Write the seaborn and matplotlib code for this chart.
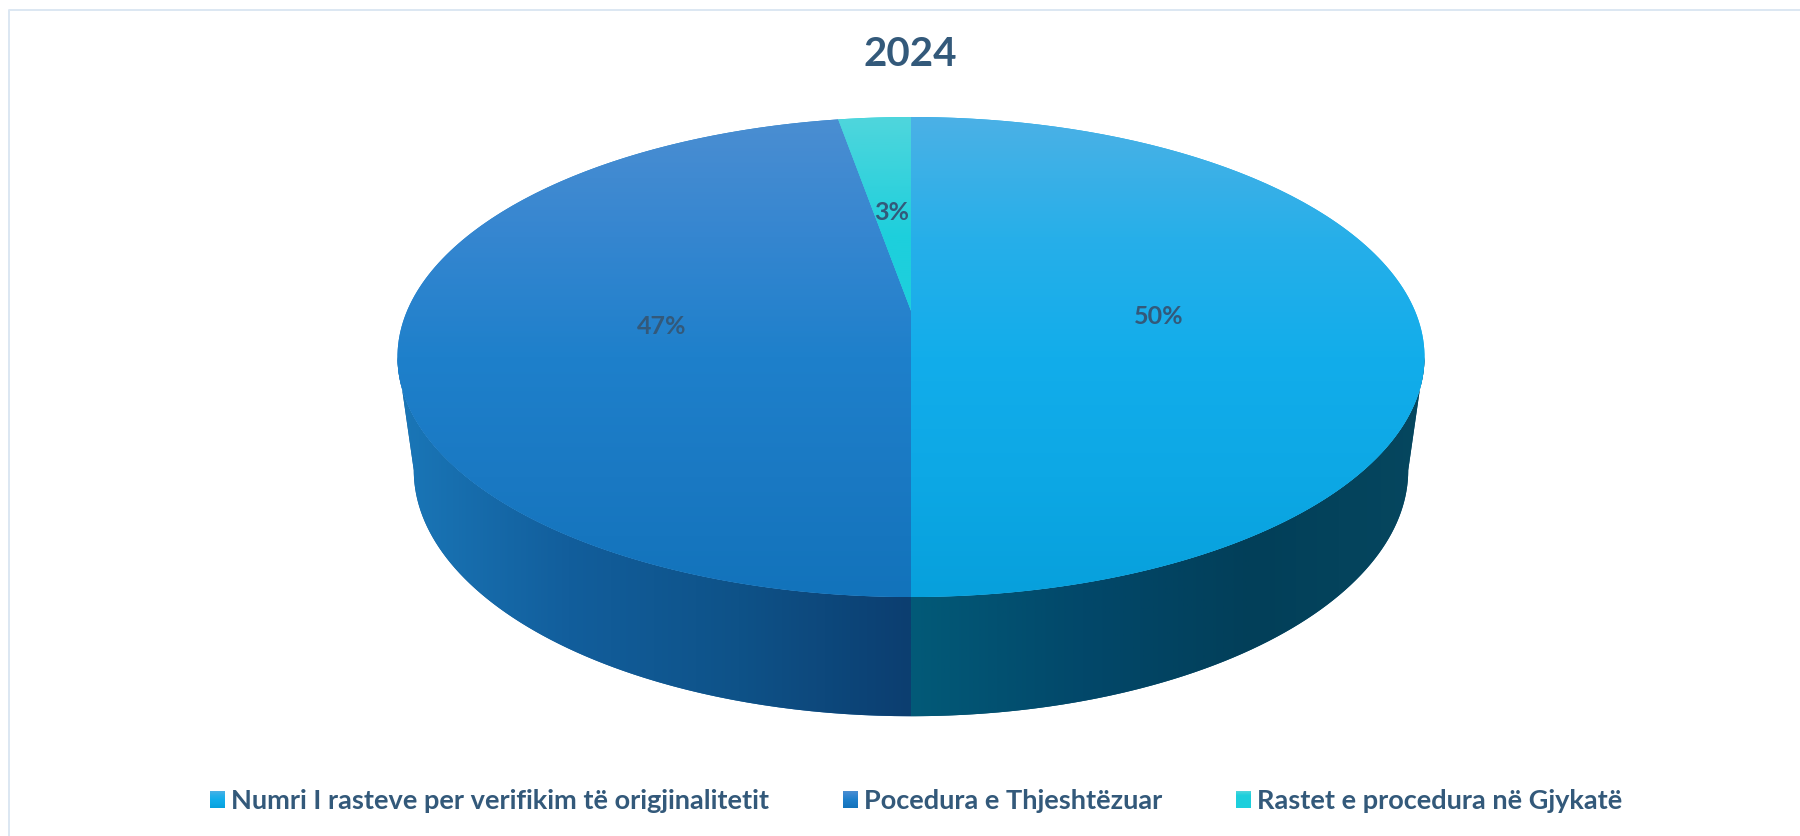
import numpy as np
import seaborn as sns
import matplotlib
matplotlib.use("Agg")
import matplotlib.pyplot as plt
from matplotlib.path import Path
from matplotlib.patches import PathPatch
from matplotlib.transforms import Transform

categories = ['Numri I rasteve per verifikim të origjinalitetit',
              'Pocedura e Thjeshtëzuar',
              'Rastet e procedura në Gjykatë']
values = [50.0, 47.25, 2.75]
title = '2024'

# top face gradients, far edge to near edge
top_colors = [['#4BB1E6', '#27AFE9', '#12ADEB', '#0DA8E5', '#07A0DC'],
              ['#4B8ED2', '#3586D0', '#1E80CB', '#1A79C3', '#1273BB'],
              ['#4FD6DC', '#1DCFDC', '#1DCFDC', '#1DCFDC', '#1DCFDC']]
# side gradients, left to right
side_colors = {0: ['#025A78', '#02486A', '#023F59', '#06475F'],
               1: ['#1A77B8', '#125E9C', '#0E5288', '#0C3E70']}
text_color = '#33597A'


class Perspective(Transform):
    # puts the unit circle of the pie on a tilted plane, output in pixels
    input_dims = 2
    output_dims = 2
    is_separable = False

    def __init__(self, cx, cy, a, b, k):
        super().__init__()
        self.cx, self.cy, self.a, self.b, self.k = cx, cy, a, b, k

    def transform_non_affine(self, xy):
        xy = np.asarray(xy, dtype=float)
        w = 1 + self.k * xy[:, 1]
        return np.column_stack([self.cx + self.a * xy[:, 0] / w,
                                self.cy - self.b * xy[:, 1] / w])

    def transform_path_non_affine(self, path):
        # flatten the bezier arcs first, control points do not survive this map
        pts = [seg(np.linspace(0, 1, 40)) for seg, _ in path.iter_bezier()]
        return Path(self.transform_non_affine(np.vstack(pts)))


sns.set_theme(style="white")
plt.rcParams['font.family'] = ['Lato', 'DejaVu Sans']

fig = plt.figure(figsize=(18, 8.36), dpi=100, facecolor='white')
ax = fig.add_axes([0, 0, 1, 1])

wedges, _, pcts = ax.pie(values, startangle=90, counterclock=False, radius=1,
                         autopct='%.0f%%', pctdistance=0.49,
                         colors=[c[2] for c in top_colors],
                         wedgeprops=dict(linewidth=0),
                         textprops=dict(color=text_color, fontsize=18, fontweight='bold'))

ax.set_aspect('auto')
ax.set_xlim(0, 1800)
ax.set_ylim(836, 0)
ax.set_autoscale_on(False)
ax.axis('off')

k = 0.1917
top = Perspective(911, 311, 504, 231.2, k)
low = Perspective(911, 423, 488, 237, k)
tangent = np.degrees(np.arcsin(k))

# side wall, only the front of the pie
for i, w in enumerate(wedges[:2]):
    if i == 0:
        t1, t2 = 270, 360 - tangent
    else:
        t1, t2 = 180 + tangent, 270
    th = np.radians(np.linspace(t1, t2, 200))
    unit = np.column_stack([np.cos(th), np.sin(th)])
    outline = np.vstack([top.transform_non_affine(unit),
                         low.transform_non_affine(unit)[::-1]])
    wall = PathPatch(Path(outline), fc=side_colors[i][1], ec='none', zorder=1)
    ax.add_patch(wall)
    x0, x1 = outline[:, 0].min(), outline[:, 0].max()
    cmap = sns.blend_palette(side_colors[i], as_cmap=True)
    im = ax.imshow(np.linspace(0, 1, 256)[None, :], cmap=cmap, aspect='auto',
                   extent=(x0, x1, 720, 300), zorder=1.5)
    im.set_clip_path(wall)

# top face
for w, cols in zip(wedges, top_colors):
    w.set_transform(top + ax.transData)
    w.set_zorder(2)
    cmap = sns.blend_palette(cols, as_cmap=True)
    im = ax.imshow(np.linspace(0, 1, 256)[:, None], cmap=cmap, aspect='auto',
                   extent=(390, 1430, 597, 117), zorder=2.5)
    im.set_clip_path(w)

for t in pcts:
    x, y = t.get_position()
    t.set_position((x, y - 0.022))
    t.set_transform(top + ax.transData)
    t.set_zorder(4)

ax.text(910.5, 55, title, ha='center', va='center', color=text_color,
        fontsize=29, fontweight='bold')

# chart border, only left and top show
ax.plot([9, 9, 1800], [836, 9.5, 9.5], color='#DCE7F2', lw=1.4, zorder=0)

leg = ax.legend(wedges, categories, ncol=3, loc='center', bbox_to_anchor=(916 / 1800, 1 - 801 / 836),
                frameon=False, labelcolor=text_color, handlelength=0.55,
                handleheight=0.55, handletextpad=0.22, columnspacing=2.74,
                prop=dict(weight='bold', size=19.5))

fig.canvas.draw()
for patch, cols in zip(leg.get_patches(), top_colors):
    (x0, y0), (x1, y1) = ax.transData.inverted().transform(patch.get_window_extent())
    ax.imshow(np.linspace(0, 1, 64)[:, None], cmap=sns.blend_palette(cols, as_cmap=True),
              aspect='auto', extent=(x0, x1, max(y0, y1), min(y0, y1)), zorder=6)

fig.savefig('out.png', dpi=100)
